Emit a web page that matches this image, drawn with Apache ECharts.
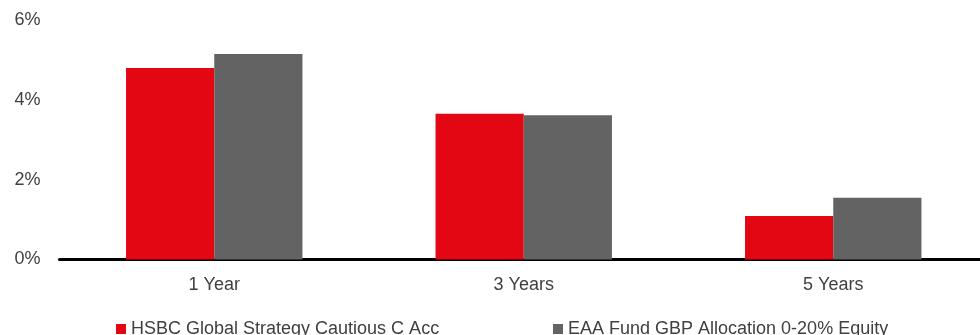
<!DOCTYPE html>
<html>
<head>
<meta charset="utf-8">
<script src="https://cdn.jsdelivr.net/npm/echarts@6/dist/echarts.min.js"></script>
<style>
  html, body { margin: 0; padding: 0; background: #ffffff; }
  #chart { width: 980px; height: 335px; }
</style>
</head>
<body>
<div id="chart"></div>
<script>
const categories = ['1 Year', '3 Years', '5 Years'];
const fundName = 'HSBC Global Strategy Cautious C Acc';
const peerName = 'EAA Fund GBP Allocation 0-20% Equity';
const fundValues = [4.81, 3.66, 1.09];
const peerValues = [5.16, 3.62, 1.55];
const yTicks = { min: 0, max: 6, interval: 2 };

const textColor = '#404040';
const font = 'Liberation Sans, Arial, sans-serif';

const chart = echarts.init(document.getElementById('chart'), null, { renderer: 'canvas' });
chart.setOption({
  animation: false,
  backgroundColor: '#ffffff',
  grid: { left: 59.5, width: 928.5, top: 20.5, height: 239, containLabel: false, outerBoundsMode: 'none' },
  legend: [
    {
      data: [fundName], left: 111, top: 315,
      icon: 'rect', itemWidth: 10, itemHeight: 10,
      textStyle: { color: textColor, fontSize: 18, fontFamily: font }
    },
    {
      data: [peerName], left: 548, top: 315,
      icon: 'rect', itemWidth: 10, itemHeight: 10,
      textStyle: { color: textColor, fontSize: 18, fontFamily: font }
    }
  ],
  xAxis: {
    type: 'category',
    data: categories,
    axisLine: { show: true, lineStyle: { color: '#000000', width: 3 } },
    axisTick: { show: false },
    axisLabel: { color: textColor, fontSize: 18, fontFamily: font, margin: 17 },
    splitLine: { show: false }
  },
  yAxis: {
    type: 'value',
    min: yTicks.min, max: yTicks.max, interval: yTicks.interval,
    axisLine: { show: false },
    axisTick: { show: false },
    splitLine: { show: false },
    axisLabel: { color: textColor, fontSize: 18, fontFamily: font, margin: 19, formatter: '{value}%' }
  },
  series: [
    {
      name: fundName, type: 'bar', data: fundValues,
      itemStyle: { color: '#e30613' },
      barGap: '0%', barCategoryGap: '43%'
    },
    {
      name: peerName, type: 'bar', data: peerValues,
      itemStyle: { color: '#636363' },
      barGap: '0%', barCategoryGap: '43%'
    }
  ]
});
</script>
</body>
</html>
